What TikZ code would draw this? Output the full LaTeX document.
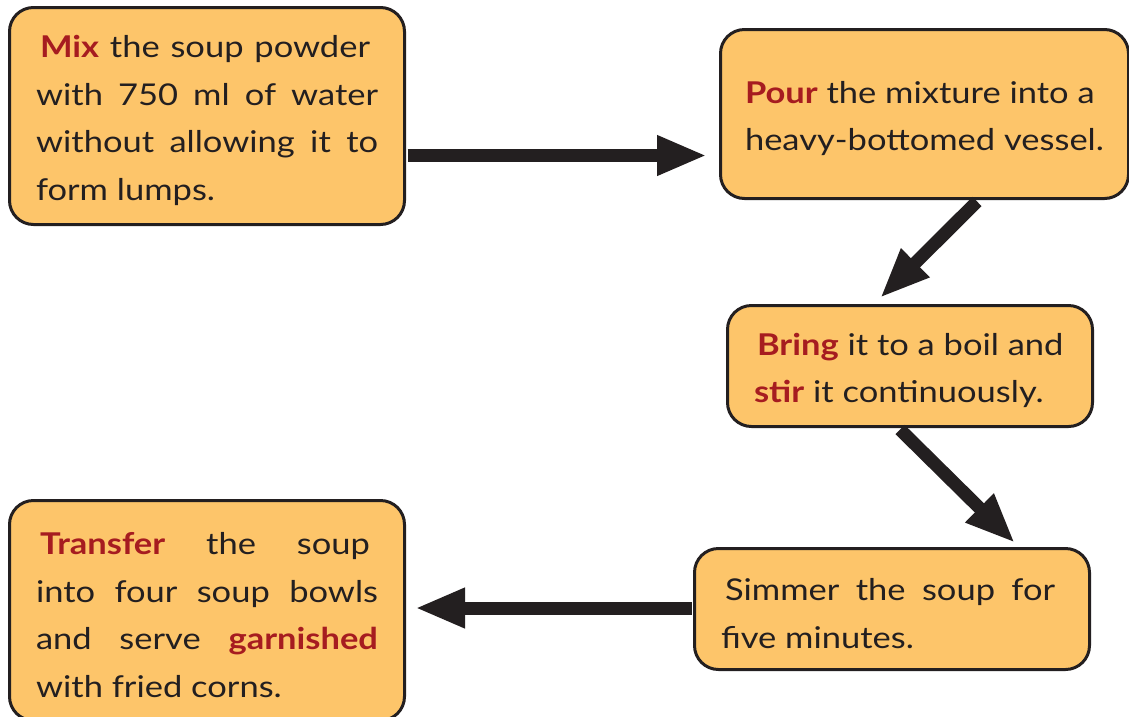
\documentclass[tikz,border=0pt]{standalone}
\usepackage{fontspec}
\setmainfont[FakeStretch=1.15]{Lato}
\usetikzlibrary{arrows.meta,calc}
\definecolor{boxfill}{HTML}{FDC56A}
\definecolor{ink}{HTML}{231F20}
\definecolor{hlred}{HTML}{A61C20}
\newcommand\hl[1]{\textcolor{hlred}{\textbf{#1}}}
\newcommand\jline[2]{\makebox[#1][s]{#2}\par}
\newcommand\lline[2]{\makebox[#1][l]{#2}\par}
\tikzset{
  stepbox/.style={draw=ink, line width=3pt, fill=boxfill, rounded corners=24pt,
    inner sep=0pt, text=ink, font=\fontsize{30}{47.5}\selectfont},
  flowarrow/.style={draw=ink, line width=13pt, -{Triangle[length=50pt,width=37pt]}}
}
\begin{document}
\begin{tikzpicture}[x=1pt,y=-1pt]
\useasboundingbox (0,0) rectangle (1129,716);
\node[stepbox, minimum width=395pt, minimum height=217pt] (n1) at (207,116)
  {\parbox{342pt}{\vspace*{9pt}\hspace*{4pt}\jline{330pt}{\hl{Mix} the soup powder}%
   \jline{342pt}{with 750 ml of water}%
   \jline{342pt}{without allowing it to}%
   \lline{342pt}{form lumps.}}};
\node[stepbox, minimum width=408pt, minimum height=169pt] (n2) at (924.5,114)
  {\parbox{359pt}{\vspace*{9pt}\lline{359pt}{\hl{Pour} the mixture into a}%
   \lline{359pt}{heavy-bottomed vessel.}}};
\node[stepbox, minimum width=365pt, minimum height=121pt] (n3) at (910,366)
  {\parbox{312pt}{\vspace*{9pt}\hspace*{3pt}\lline{309pt}{\hl{Bring} it to a boil and}%
   \lline{312pt}{\hl{stir} it continuously.}}};
\node[stepbox, minimum width=395pt, minimum height=121pt] (n4) at (892,609)
  {\parbox{342pt}{\vspace*{9pt}\hspace*{4pt}\jline{330pt}{Simmer the soup for}%
   \lline{342pt}{five minutes.}}};
\node[stepbox, minimum width=395pt, minimum height=220pt] (n5) at (207,610.5)
  {\parbox{342pt}{\vspace*{9pt}\hspace*{4pt}\jline{330pt}{\hl{Transfer} the soup}%
   \jline{342pt}{into four soup bowls}%
   \jline{342pt}{and serve \hl{garnished}}%
   \lline{342pt}{with fried corns.}}};
\draw[flowarrow] ($(n1.east)+(1.5,39.5)$) -- ($(n2.west)+(-12,41.5)$);
\draw[flowarrow] ($(n2.south)+(52.5,1.5)$) -- ($(n3.north)+(-30,-6)$);
\draw[flowarrow] ($(n3.south)+(-10,1.5)$) -- ($(n4.north)+(123,-4)$);
\draw[flowarrow] ($(n4.west)+(-1.5,-1)$) -- ($(n5.east)+(9,-2.5)$);
\end{tikzpicture}
\end{document}
